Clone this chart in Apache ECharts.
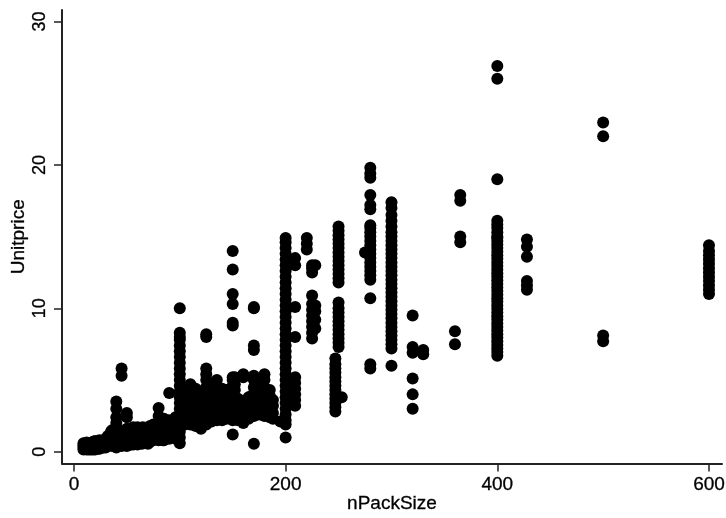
<!DOCTYPE html>
<html><head><meta charset="utf-8">
<script src="https://cdn.jsdelivr.net/npm/echarts@6/dist/echarts.min.js"></script>
<style>html,body{margin:0;padding:0;background:#fff}#c{width:726px;height:518px}</style>
</head><body><div id="c"></div>
<script>
const xTicks = [0, 200, 400, 600];
const yTicks = [0, 10, 20, 30];
const packSizes = [9,12,14,16,18,20,22,24,25,28,30,32,35,36,40,42,45,50,54,56,60,64,65,70,72,75,80,84,85,90,96,100,
  105,110,112,115,120,125,130,135,140,144,150,152,155,160,165,168,170,175,180,185,188,195,200,209,220,225,228,250,247,253,275,280,300,320,330,360,365,400,428,500,600];
const prices = [
 [0.15,0.3,0.45,0.6],[0.15,0.3,0.45,0.65],[0.15,0.35,0.5],[0.15,0.3,0.5],[0.15,0.3,0.5,0.7],[0.15,0.3,0.5,0.75],[0.2,0.4,0.6],[0.2,0.4,0.6,0.8],[0.25,0.5,0.7],[0.3,0.5,0.7],
 [0.3,0.5,0.7,0.9],[0.5,0.8,1.1],[0.5,0.8,1.1,1.4],[0.4,0.7,1.0,1.5],[0.3,0.6,0.9,1.3,1.7,2.0,2.4,3.0,3.5],[0.5,1.0,1.4],[0.4,0.8,1.2,5.3,5.8],[0.4,0.7,1.0,1.3,1.6,2.4,2.7],[0.5,0.9,1.3,1.6],
 [0.5,0.9,1.3,1.7],[0.5,0.8,1.1,1.4,1.7],[0.55,1.0,1.5],[0.6,1.0,1.4,1.7],[0.55,0.9,1.2,1.7],[0.7,1.1,1.5,1.8],[0.8,1.2,1.6,1.9],[0.8,1.2,1.6,2.0,2.5,3.05],[0.8,1.1,1.5,1.9,2.2],[0.8,1.3,1.8,2.3],
 [0.9,1.3,1.7,2.2,4.1],[0.9,1.3,1.8,2.4],[0.6,1.0,1.4,1.8,2.2,2.6,3.0,3.4,3.8,4.2,4.6,5.0,5.4,5.8,6.2,6.6,7.0,7.4,7.8,8.0,8.3,10.0],
 [1.9,2.3,2.8,3.3,3.8,4.3],[1.9,2.4,2.9,3.4,3.9,4.4,4.7],[2.0,2.5,3.0,3.5,4.0,4.5],[1.8,2.3,2.8,3.4,4.0,4.4],[1.6,2.2,2.7,3.2,3.7,4.2],[1.9,2.5,3.0,3.5,4.0,4.5,5.0,5.4,5.8,8.0,8.2],[2.1,2.7,3.2,3.7,4.2,4.6],[2.2,2.7,3.2,3.7,4.2,5.0],[2.2,2.6,3.1,3.6,4.0,4.4],[2.3,2.8,3.3,3.8,4.3],
 [1.2,2.2,2.6,3.0,3.4,3.8,4.2,4.6,5.0,5.2,8.8,9.0,10.3,11.0,12.7,14.0],[4.3,4.7,5.2],[2.2,2.7,3.2,3.7],[2.0,2.5,3.0,3.5,5.2,5.4],[2.3,2.8,3.3,3.8],[2.5,3.0,3.5,3.9],[0.55,2.5,3.0,3.5,4.0,4.5,5.0,5.3,7.1,7.4,10.0,10.1],[2.6,3.1,3.6,4.1,4.6,5.0],[2.5,3.0,3.5,4.0,4.5,5.0,5.4],[2.4,2.9,3.4,3.9,4.3],[2.3,2.7,3.2,3.6],[2.1],
 [1.0,1.9,2.2,2.6,3.0,3.4,3.8,4.2,4.6,5.0,5.4,5.8,6.2,6.6,7.0,7.4,7.8,8.2,8.6,9.0,9.4,9.8,10.2,10.6,11.0,11.4,11.8,12.2,12.6,13.0,13.4,13.8,14.2,14.6,14.9],
 [3.2,3.6,4.0,4.4,4.8,5.2,8.0,10.1,13.0,13.5],[14.1,14.5,14.9],[7.9,8.3,8.7,9.1,9.5,9.9,10.3,10.9,12.5,12.8,13.0],[8.6,9.2,9.8,10.2,13.0],
 [7.3,7.6,7.9,8.2,8.5,8.8,9.1,9.4,9.7,10.0,10.4,11.8,12.1,12.4,12.7,13.0,13.3,13.6,13.9,14.2,14.5,14.8,15.1,15.4,15.7],[2.8,3.1,3.4,3.7,4.0,4.3,4.6,4.9,5.2,5.5,5.8,6.1,6.5],[3.8],[13.9],
 [5.8,6.1,10.7,12.0,12.3,12.6,12.9,13.2,13.5,13.8,14.1,14.4,14.7,15.0,15.3,15.6,15.8,16.9,17.2,17.9,19.1,19.4,19.8],
 [6.0,7.2,7.5,7.8,8.1,8.4,8.7,9.0,9.3,9.6,9.9,10.2,10.5,10.8,11.1,11.4,11.7,12.0,12.3,12.6,12.9,13.2,13.5,13.8,14.1,14.4,14.7,15.0,15.3,15.7,16.1,16.5,17.0,17.4],
 [3.0,4.0,5.1,6.9,7.3,9.5],[6.8,7.1],[7.5,8.4],[14.6,15.0,17.5,17.9],
 [6.7,6.95,7.2,7.45,7.7,7.95,8.2,8.45,8.7,8.95,9.2,9.45,9.7,9.95,10.2,10.45,10.7,10.95,11.2,11.45,11.7,11.95,12.2,12.45,12.7,12.95,13.2,13.45,13.7,13.95,14.2,14.45,14.7,14.9,15.0,15.3,15.6,15.85,16.1,19.0,26.0,26.9],
 [11.3,11.6,11.9,13.6,14.3,14.8],[7.7,8.1,22.0,22.95],[11.0,11.3,11.6,11.9,12.2,12.5,12.8,13.1,13.4,13.7,14.0,14.4]
];
const points = [];
packSizes.forEach((x, i) => prices[i].forEach(y => points.push([x, y])));
const font = 'Liberation Sans';
const axisCol = '#222';
const textStyle = {fontFamily: font, color: '#000', textBorderColor: '#000', textBorderWidth: 0.3};
const chart = echarts.init(document.getElementById('c'), null, {renderer: 'canvas'});
chart.setOption({
  animation: false,
  backgroundColor: '#fff',
  grid: {left: 62, right: 4, top: 10, bottom: 54.5, outerBoundsMode: 'none'},
  xAxis: {
    type: 'value', min: -11.3, max: 612.3, name: 'nPackSize', nameLocation: 'middle', nameGap: 31, nameMoveOverlap: false,
    nameTextStyle: {...textStyle, fontSize: 19},
    axisLine: {onZero: false, lineStyle: {color: axisCol, width: 2}},
    axisTick: {show: true, length: 8, lineStyle: {color: axisCol, width: 1.5}, customValues: xTicks},
    axisLabel: {...textStyle, fontSize: 19, margin: 12, customValues: xTicks, hideOverlap: false},
    splitLine: {show: false}
  },
  yAxis: {
    type: 'value', min: -0.82, max: 30.8, name: 'Unitprice', nameLocation: 'middle', nameGap: 34, nameMoveOverlap: false,
    nameTextStyle: {...textStyle, fontSize: 19},
    axisLine: {onZero: false, lineStyle: {color: axisCol, width: 2}},
    axisTick: {show: true, length: 8, lineStyle: {color: axisCol, width: 1.5}, customValues: yTicks},
    axisLabel: {...textStyle, fontSize: 18, rotate: 90, margin: 13, customValues: yTicks},
    splitLine: {show: false}
  },
  series: [{type: 'scatter', data: points, symbol: 'circle', symbolSize: 12, clip: false,
    itemStyle: {color: '#000', opacity: 1}}]
});
</script></body></html>
